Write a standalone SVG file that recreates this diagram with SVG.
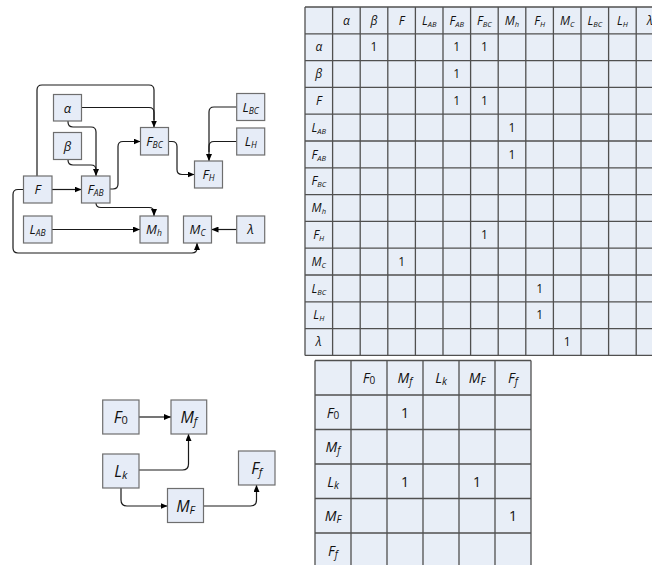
<svg xmlns="http://www.w3.org/2000/svg" width="652" height="565" viewBox="0 0 652 565">
<defs>
<style>
.bg{fill:#ffffff}
.nd rect{fill:#e6ecf7;stroke:#6e6e6e;stroke-width:1.2}
.t{font-family:"Open Sans","Liberation Sans",sans-serif;font-style:italic;fill:#111;text-anchor:middle}
.s{font-size:13px}
.b{font-size:16px}
.sub{font-size:8.5px}
.subb{font-size:11px}
.one{font-family:"Open Sans","Liberation Sans",sans-serif;font-style:normal;fill:#111;text-anchor:middle}
.c{fill:none;stroke:#1a1a1a;stroke-width:1.2}
.grid{fill:none;stroke:#505050;stroke-width:1.3}
.mfill{fill:#e8eef7}
</style>
<marker id="ar" markerWidth="7" markerHeight="6" refX="7" refY="3" orient="auto" markerUnits="userSpaceOnUse">
<path d="M0,0 L7,3 L0,6 z" fill="#000"/>
</marker>
</defs>
<rect class="bg" x="0" y="0" width="652" height="565"/>

<g id="connectors">
<path class="c" d="M37,176 V90 Q37,85 42,85 H149 Q154,85 154,90 V127.5" marker-end="url(#ar)"/>
<path class="c" d="M81.5,107.5 H149 Q154,107.5 154,112.5 V120"/>
<path class="c" d="M68,121 V122 Q68,127 73,127 H91 Q96,127 96,132 V176" marker-end="url(#ar)"/>
<path class="c" d="M68,159 V160 Q68,165 73,165 H91 Q96,165 96,170 V172"/>
<path class="c" d="M110,189 H113 Q118,189 118,184 V146.5 Q118,141.5 123,141.5 H140.5" marker-end="url(#ar)"/>
<path class="c" d="M168.5,141.5 H172 Q177,141.5 177,146.5 V169.5 Q177,174.5 182,174.5 H194.5" marker-end="url(#ar)"/>
<path class="c" d="M236.7,107 H214 Q209,107 209,112 V161" marker-end="url(#ar)"/>
<path class="c" d="M236.7,141.5 H214 Q209,141.5 209,146.5 V152"/>
<path class="c" d="M52,189.5 H81.5" marker-end="url(#ar)"/>
<path class="c" d="M23.5,189.5 H18 Q13,189.5 13,194.5 V248 Q13,253 18,253 H192 Q197,253 197,248 V243" marker-end="url(#ar)"/>
<path class="c" d="M96,203 Q96,207.5 101,207.5 H149 Q154,207.5 154,212.5 V216" marker-end="url(#ar)"/>
<path class="c" d="M52,229.5 H140" marker-end="url(#ar)"/>
<path class="c" d="M236.7,229.5 H211.5" marker-end="url(#ar)"/>

<path class="c" d="M139,417 H171" marker-end="url(#ar)"/>
<path class="c" d="M139,470 H182.5 Q188.5,470 188.5,464 V434" marker-end="url(#ar)"/>
<path class="c" d="M121,488 V500 Q121,506 127,506 H167.5" marker-end="url(#ar)"/>
<path class="c" d="M203.5,506 H250.5 Q256.5,506 256.5,500 V485" marker-end="url(#ar)"/>
</g>

<g id="n-alpha" class="nd"><rect x="53.5" y="94.5" width="28" height="26.5"/><text class="t s" x="67.5" y="112.5">α</text></g>
<g id="n-beta" class="nd"><rect x="53.5" y="132.5" width="28" height="27"/><text class="t s" x="67.5" y="150.5">β</text></g>
<g id="n-F" class="nd"><rect x="23.5" y="176" width="28.5" height="27"/><text class="t s" x="37.5" y="194">F</text></g>
<g id="n-FAB" class="nd"><rect x="81.5" y="176" width="28.5" height="27"/><text class="t s" x="95.5" y="194">F<tspan class="sub" dy="2">AB</tspan></text></g>
<g id="n-LAB" class="nd"><rect x="23.5" y="216" width="28.5" height="27"/><text class="t s" x="37.5" y="234">L<tspan class="sub" dy="2">AB</tspan></text></g>
<g id="n-Mh" class="nd"><rect x="140" y="216" width="28" height="27"/><text class="t s" x="154" y="234">M<tspan class="sub" dy="2">h</tspan></text></g>
<g id="n-MC" class="nd"><rect x="183.5" y="216" width="28" height="27"/><text class="t s" x="197.5" y="234">M<tspan class="sub" dy="2">C</tspan></text></g>
<g id="n-lambda" class="nd"><rect x="236.7" y="216" width="28" height="27"/><text class="t s" x="250.7" y="234">λ</text></g>
<g id="n-FBC" class="nd"><rect x="140.5" y="127.5" width="28" height="27.5"/><text class="t s" x="154.5" y="145.5">F<tspan class="sub" dy="2">BC</tspan></text></g>
<g id="n-FH" class="nd"><rect x="194.5" y="161" width="28" height="27"/><text class="t s" x="208.5" y="179">F<tspan class="sub" dy="2">H</tspan></text></g>
<g id="n-LBC" class="nd"><rect x="236.7" y="93.5" width="28" height="27"/><text class="t s" x="250.7" y="111.5">L<tspan class="sub" dy="2">BC</tspan></text></g>
<g id="n-LH" class="nd"><rect x="236.7" y="128" width="28" height="27"/><text class="t s" x="250.7" y="146">L<tspan class="sub" dy="2">H</tspan></text></g>

<g id="n-F0" class="nd"><rect x="102.7" y="400" width="36.3" height="34"/><text class="t b" x="120.8" y="423">F<tspan class="subb" font-style="normal" dy="1">0</tspan></text></g>
<g id="n-Mf" class="nd"><rect x="171" y="400" width="35.7" height="34"/><text class="t b" x="188.8" y="423">M<tspan class="subb" dy="2">f</tspan></text></g>
<g id="n-Lk" class="nd"><rect x="102.7" y="454" width="36.3" height="34"/><text class="t b" x="120.8" y="477">L<tspan class="subb" dy="2">k</tspan></text></g>
<g id="n-MF" class="nd"><rect x="167.5" y="488.5" width="36" height="34"/><text class="t b" x="185.5" y="511.5">M<tspan class="subb" dy="2">F</tspan></text></g>
<g id="n-Ff" class="nd"><rect x="238.5" y="451" width="36.5" height="34"/><text class="t b" x="256.7" y="474">F<tspan class="subb" dy="2">f</tspan></text></g>

<g id="matrix1">
<rect class="mfill" x="305" y="7" width="359" height="348.4"/>
<path class="grid" d="M305,7 H664 M305,33.8 H664 M305,60.6 H664 M305,87.4 H664 M305,114.2 H664 M305,141 H664 M305,167.8 H664 M305,194.6 H664 M305,221.4 H664 M305,248.2 H664 M305,275 H664 M305,301.8 H664 M305,328.6 H664 M305,355.4 H664 M305,7 V355.4 M332.6,7 V355.4 M360.2,7 V355.4 M387.8,7 V355.4 M415.4,7 V355.4 M443,7 V355.4 M470.6,7 V355.4 M498.2,7 V355.4 M525.8,7 V355.4 M553.4,7 V355.4 M581,7 V355.4 M608.6,7 V355.4 M636.2,7 V355.4"/>
<g class="t" font-size="12px">
<text x="346.4" y="24.5">α</text><text x="374" y="24.5">β</text><text x="401.6" y="24.5">F</text>
<text x="429.2" y="24.5">L<tspan font-size="7.5px" dy="2">AB</tspan></text>
<text x="456.8" y="24.5">F<tspan font-size="7.5px" dy="2">AB</tspan></text>
<text x="484.4" y="24.5">F<tspan font-size="7.5px" dy="2">BC</tspan></text>
<text x="512" y="24.5">M<tspan font-size="7.5px" dy="2">h</tspan></text>
<text x="539.6" y="24.5">F<tspan font-size="7.5px" dy="2">H</tspan></text>
<text x="567.2" y="24.5">M<tspan font-size="7.5px" dy="2">C</tspan></text>
<text x="594.8" y="24.5">L<tspan font-size="7.5px" dy="2">BC</tspan></text>
<text x="622.4" y="24.5">L<tspan font-size="7.5px" dy="2">H</tspan></text>
<text x="650" y="24.5">λ</text>
<text x="318.8" y="51.3">α</text>
<text x="318.8" y="78.1">β</text>
<text x="318.8" y="104.9">F</text>
<text x="318.8" y="131.7">L<tspan font-size="7.5px" dy="2">AB</tspan></text>
<text x="318.8" y="158.5">F<tspan font-size="7.5px" dy="2">AB</tspan></text>
<text x="318.8" y="185.3">F<tspan font-size="7.5px" dy="2">BC</tspan></text>
<text x="318.8" y="212.1">M<tspan font-size="7.5px" dy="2">h</tspan></text>
<text x="318.8" y="238.9">F<tspan font-size="7.5px" dy="2">H</tspan></text>
<text x="318.8" y="265.7">M<tspan font-size="7.5px" dy="2">C</tspan></text>
<text x="318.8" y="292.5">L<tspan font-size="7.5px" dy="2">BC</tspan></text>
<text x="318.8" y="319.3">L<tspan font-size="7.5px" dy="2">H</tspan></text>
<text x="318.8" y="346.1">λ</text>
</g>
<g class="one" font-size="12px">
<text x="374" y="51.3">1</text><text x="456.8" y="51.3">1</text><text x="484.4" y="51.3">1</text>
<text x="456.8" y="78.1">1</text>
<text x="456.8" y="104.9">1</text><text x="484.4" y="104.9">1</text>
<text x="512" y="131.7">1</text>
<text x="512" y="158.5">1</text>
<text x="484.4" y="238.9">1</text>
<text x="401.6" y="265.7">1</text>
<text x="539.6" y="292.5">1</text>
<text x="539.6" y="319.3">1</text>
<text x="567.2" y="346.1">1</text>
</g>
</g>

<g id="matrix2">
<rect class="mfill" x="315" y="360.5" width="216" height="210"/>
<path class="grid" d="M315,360.5 H531 M315,395 H531 M315,429.5 H531 M315,464 H531 M315,498.5 H531 M315,533 H531 M315,360.5 V570 M351,360.5 V570 M387,360.5 V570 M423,360.5 V570 M459,360.5 V570 M495,360.5 V570 M531,360.5 V570"/>
<g class="t" font-size="14px">
<text x="369" y="383">F<tspan font-size="10px" font-style="normal" dy="1">0</tspan></text>
<text x="405" y="383">M<tspan font-size="10px" dy="2">f</tspan></text>
<text x="441" y="383">L<tspan font-size="10px" dy="2">k</tspan></text>
<text x="477" y="383">M<tspan font-size="10px" dy="2">F</tspan></text>
<text x="513" y="383">F<tspan font-size="10px" dy="2">f</tspan></text>
<text x="333" y="417.5">F<tspan font-size="10px" font-style="normal" dy="1">0</tspan></text>
<text x="333" y="452">M<tspan font-size="10px" dy="2">f</tspan></text>
<text x="333" y="486.5">L<tspan font-size="10px" dy="2">k</tspan></text>
<text x="333" y="521">M<tspan font-size="10px" dy="2">F</tspan></text>
<text x="333" y="555.5">F<tspan font-size="10px" dy="2">f</tspan></text>
</g>
<g class="one" font-size="14px">
<text x="405" y="417.5">1</text>
<text x="405" y="486.5">1</text><text x="477" y="486.5">1</text>
<text x="513" y="521">1</text>
</g>
</g>
</svg>
